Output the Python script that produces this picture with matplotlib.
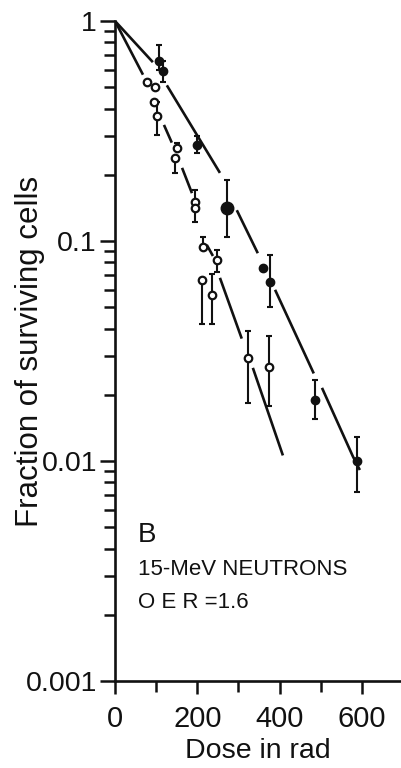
import numpy as np
import matplotlib
matplotlib.use("Agg")
import matplotlib.pyplot as plt
from matplotlib.ticker import FixedLocator, NullFormatter

# Oxic cells (filled circles): dose (rad), surviving fraction, error-bar limits
oxic_dose = [108, 116, 199, 272, 360, 376, 486, 588]
oxic_surv = [0.66, 0.59, 0.273, 0.141, 0.075, 0.065, 0.019, 0.010]
oxic_lo = [0.60, 0.53, 0.25, 0.104, 0.075, 0.050, 0.0156, 0.0072]
oxic_hi = [0.78, 0.66, 0.30, 0.19, 0.075, 0.086, 0.0233, 0.0129]
oxic_size = [8, 8, 8, 12, 8, 8, 8, 8]

# Hypoxic cells (open circles)
hyp_dose = [78, 97, 95, 102, 151, 146, 194, 194, 214, 211, 248, 235, 323, 374]
hyp_surv = [0.53, 0.50, 0.43, 0.37, 0.265, 0.238, 0.150, 0.141, 0.094, 0.0665, 0.082, 0.057, 0.0294, 0.0267]
hyp_lo = [0.53, 0.50, 0.43, 0.303, 0.265, 0.204, 0.141, 0.122, 0.094, 0.042, 0.072, 0.042, 0.0184, 0.0177]
hyp_hi = [0.53, 0.50, 0.43, 0.43, 0.28, 0.238, 0.17, 0.141, 0.104, 0.0665, 0.091, 0.071, 0.039, 0.037]

# Survival curves, drawn as broken pieces that stop short of the data points
oxic_curve = [
    [(0, 1.0), (92, 0.65)],
    [(126, 0.51), (255, 0.204)],
    [(296, 0.138), (347, 0.088)],
    [(389, 0.060), (483, 0.025)],
    [(503, 0.0215), (578, 0.0105), (595, 0.0091)],
]
hyp_curve = [
    [(0, 1.0), (68, 0.57)],
    [(119, 0.337), (138, 0.28)],
    [(163, 0.215), (187, 0.165)],
    [(223, 0.096), (238, 0.0855)],
    [(255, 0.068), (308, 0.036)],
    [(335, 0.0265), (408, 0.0106)],
]

x_major = [0, 200, 400, 600]
x_minor = [100, 300, 500]
y_major = [1, 0.1, 0.01, 0.001]
y_major_labels = ["1", "0.1", "0.01", "0.001"]

plt.rcParams["font.family"] = ["Liberation Sans", "DejaVu Sans"]

W, H = 401, 768
fig = plt.figure(figsize=(W / 100, H / 100), dpi=100)
ax = fig.add_axes([115 / W, 1 - 681 / H, 1 - 115 / W, (681 - 21) / H])
ax.set_yscale("log")
ax.set_xlim(0, 695)
ax.set_ylim(0.001, 1.0)

ink = "#111111"
lw = 1.9

for piece in oxic_curve + hyp_curve:
    d, s = zip(*piece)
    ax.plot(d, s, color=ink, lw=lw, solid_capstyle="butt", zorder=2)


def bars(dose, lo, hi):
    keep = [i for i in range(len(dose)) if hi[i] > lo[i]]
    d = np.array(dose, float)[keep]
    l = np.array(lo, float)[keep]
    h = np.array(hi, float)[keep]
    mid = np.sqrt(l * h)
    ax.errorbar(d, mid, yerr=[mid - l, h - mid], fmt="none", ecolor=ink,
                elinewidth=1.5, capsize=2.2, capthick=1.5, zorder=3)


bars(oxic_dose, oxic_lo, oxic_hi)
bars(hyp_dose, hyp_lo, hyp_hi)

for d, s, ms in zip(oxic_dose, oxic_surv, oxic_size):
    ax.plot(d, s, "o", ms=ms * 0.75, color=ink, mec=ink, zorder=4)
ax.plot(hyp_dose, hyp_surv, "o", ms=5.4, mfc="white", mec=ink, mew=1.6,
        ls="none", zorder=4)

# axes styling
for side in ("top", "right"):
    ax.spines[side].set_visible(False)
for side in ("left", "bottom"):
    ax.spines[side].set_linewidth(1.9)
    ax.spines[side].set_color(ink)

ax.xaxis.set_major_locator(FixedLocator(x_major))
ax.xaxis.set_minor_locator(FixedLocator(x_minor))
ax.set_xticklabels([str(v) for v in x_major])
ax.yaxis.set_major_locator(FixedLocator(y_major))
ax.set_yticklabels(y_major_labels)
minor_y = [m * 10.0 ** e for e in (-3, -2, -1) for m in range(2, 10)]
ax.yaxis.set_minor_locator(FixedLocator(minor_y))
ax.yaxis.set_minor_formatter(NullFormatter())

ax.tick_params(axis="y", which="major", direction="out", length=11,
               width=1.8, color=ink, labelsize=20.5, labelcolor=ink, pad=2)
ax.tick_params(axis="x", which="major", direction="out", length=9,
               width=1.8, color=ink, labelsize=21, labelcolor=ink, pad=8)
ax.tick_params(axis="both", which="minor", direction="out", length=8,
               width=1.8, color=ink)

ax.set_xlabel("Dose in rad", fontsize=20.5, color=ink, labelpad=4)
fig.text(30 / W, 1 - 351 / H, "Fraction of surviving cells", rotation=90,
         ha="center", va="center", fontsize=22.5, color=ink)

ax.text(56, 0.00428, "B", fontsize=20, color=ink, ha="left", va="baseline")
ax.text(56, 0.00303, "15-MeV NEUTRONS", fontsize=16, color=ink, ha="left", va="baseline")
ax.text(56, 0.00215, "O E R =1.6", fontsize=16, color=ink, ha="left", va="baseline")

fig.savefig("out.png", dpi=100, facecolor="white")
